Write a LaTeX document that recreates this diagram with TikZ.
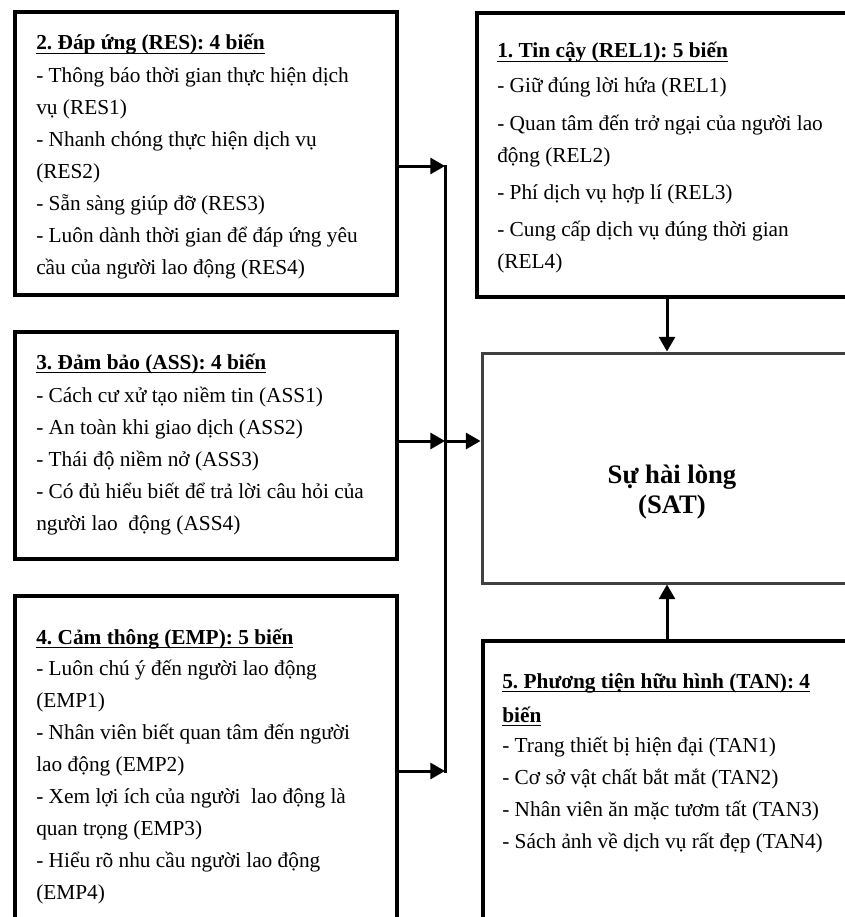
\documentclass[tikz,border=0pt]{standalone}
\usepackage{fontspec}
\setmainfont{Liberation Serif}
\usetikzlibrary{arrows.meta,fit}
\frenchspacing

% bold heading with a rule set at a fixed depth under the baseline
\newcommand\headline[1]{\leavevmode\setbox0\hbox{\textbf{#1}}\rlap{\rule[-3pt]{\wd0}{0.9pt}}\box0}
% ragged text block whose baseline is the baseline of its first line
\newcommand\boxtext[1]{\parbox[t]{340pt}{\raggedright\leavevmode #1}}

\tikzset{
  factor/.style={draw=black, line width=3pt, inner sep=0pt, fill=white},
  outcome/.style={draw=black!75, line width=2.25pt, inner sep=0pt, fill=white},
  arr/.style={line width=2.25pt, -{Triangle[length=11pt,width=12pt]}},
  bus/.style={line width=2.25pt, line cap=rect},
  body/.style={anchor=base west, inner sep=0pt, font=\fontsize{16}{24}\selectfont},
  satlabel/.style={anchor=base, inner sep=0pt, font=\fontsize{20}{22.5}\selectfont\bfseries},
}

\begin{document}
\begin{tikzpicture}[x=0.75pt, y=-0.75pt]
\useasboundingbox (0,0) rectangle (845,917);
\clip (0,0) rectangle (845,917);

% boxes
\node[factor, fit={(15,12) (397,295)}] (res) {};
\node[factor, fit={(477,13) (857,297)}] (rel) {};
\node[factor, fit={(15,332) (397,559)}] (ass) {};
\node[outcome, fit={(482,353) (852,583)}] (sat) {};
\node[factor, fit={(15,596) (397,935)}] (emp) {};
\node[factor, fit={(483,641) (851,935)}] (tan) {};

% box contents
\node[body] (res-text) at (36,50) {\boxtext{%
\headline{2. Đáp ứng (RES): 4 biến}\\[0.75pt]
- Thông báo thời gian thực hiện dịch\\
vụ (RES1)\\
- Nhanh chóng thực hiện dịch vụ\\
(RES2)\\
- Sẵn sàng giúp đỡ (RES3)\\
- Luôn dành thời gian để đáp ứng yêu\\
cầu của người lao động (RES4)}};

\node[body] (rel-text) at (497,58) {\boxtext{%
\headline{1. Tin cậy (REL1): 5 biến}\\[2.25pt]
- Giữ đúng lời hứa (REL1)\\[4pt]
- Quan tâm đến trở ngại của người lao\\
động (REL2)\\[4pt]
- Phí dịch vụ hợp lí (REL3)\\[4pt]
- Cung cấp dịch vụ đúng thời gian\\
(REL4)}};

\node[body] (ass-text) at (36,369) {\boxtext{%
\headline{3. Đảm bảo (ASS): 4 biến}\\[0.75pt]
- Cách cư xử tạo niềm tin (ASS1)\\
- An toàn khi giao dịch (ASS2)\\
- Thái độ niềm nở (ASS3)\\
- Có đủ hiểu biết để trả lời câu hỏi của\\
người lao\ \ động (ASS4)}};

\node[body] (emp-text) at (36,644) {\boxtext{%
\headline{4. Cảm thông (EMP): 5 biến}\\[-0.75pt]
- Luôn chú ý đến người lao động\\
(EMP1)\\
- Nhân viên biết quan tâm đến người\\
lao động (EMP2)\\
- Xem lợi ích của người\ \ lao động là\\
quan trọng (EMP3)\\
- Hiểu rõ nhu cầu người lao động\\
(EMP4)}};

\node[body] (tan-text) at (502,688) {\boxtext{%
\headline{5. Phương tiện hữu hình (TAN): 4}\\[1.5pt]
\headline{biến}\\[-1.5pt]
- Trang thiết bị hiện đại (TAN1)\\
- Cơ sở vật chất bắt mắt (TAN2)\\
- Nhân viên ăn mặc tươm tất (TAN3)\\
- Sách ảnh về dịch vụ rất đẹp (TAN4)}};

\node[satlabel] (sat-label) at (672,483) {\parbox[t]{200pt}{\centering Sự hài lòng\\(SAT)}};

% collecting line on the left
\coordinate (bus-top) at (445,166);
\coordinate (bus-mid) at (445,441);
\coordinate (bus-bot) at (445,771);
\draw[bus] (bus-top) -- (bus-bot);

% connectors
\draw[arr] (res.east |- bus-top) -- (bus-top);
\draw[arr] (ass.east |- bus-mid) -- (bus-mid);
\draw[arr] (emp.east |- bus-bot) -- (bus-bot);
\draw[arr] (bus-mid) -- (sat.west |- bus-mid);
\draw[arr] (rel.south) -- (sat.north);
\draw[arr] (tan.north) -- (sat.south);
\end{tikzpicture}
\end{document}
